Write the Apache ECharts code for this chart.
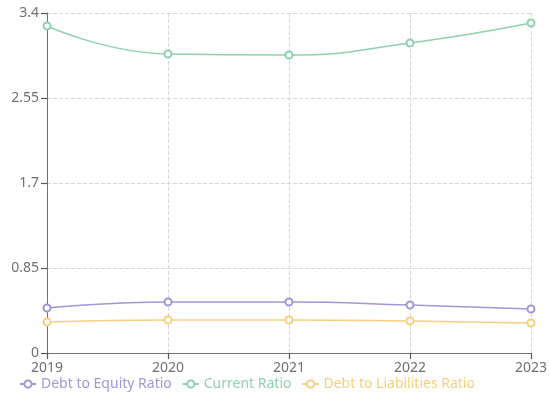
<!DOCTYPE html>
<html><head><meta charset="utf-8">
<script src="https://cdn.jsdelivr.net/npm/echarts@6/dist/echarts.min.js"></script>
<style>html,body{margin:0;padding:0;background:#fff}#c{width:550px;height:405px}</style>
</head><body><div id="c"></div>
<script>
const years = ['2019','2020','2021','2022','2023'];
const debtToEquity = [0.45, 0.51, 0.51, 0.48, 0.44];
const currentRatio = [3.27, 2.99, 2.98, 3.10, 3.30];
const debtToLiabilities = [0.31, 0.33, 0.33, 0.32, 0.30];
const seriesNames = ['Debt to Equity Ratio','Current Ratio','Debt to Liabilities Ratio'];
const colors = ['#9e98d8','#8ed1ae','#f5cf7c'];
const font = 'Noto Sans, sans-serif';
const chart = echarts.init(document.getElementById('c'));
const mk = (name, data, color) => ({
  name, type:'line', data, smooth:true, symbol:'emptyCircle', symbolSize:7,
  itemStyle:{color}, lineStyle:{color, width:1.5}
});
const tick = {show:true, inside:false, length:6, lineStyle:{color:'#55575f', width:1.2}};
chart.setOption({
  animation:false,
  color: colors,
  grid:{left:47, right:18, top:13, bottom:52, containLabel:false},
  legend:{
    left:14, bottom:9, itemGap:10, itemWidth:16, itemHeight:9,
    textStyle:{fontFamily:font, fontSize:14},
    data: seriesNames.map((n,i)=>({name:n, textStyle:{color:colors[i]}}))
  },
  xAxis:{
    type:'category', data:years, boundaryGap:false,
    axisLine:{show:true, lineStyle:{color:'#6e7079'}},
    axisTick: tick,
    axisLabel:{fontFamily:font, fontSize:14, color:'#6e7079', margin:8},
    splitLine:{show:true, lineStyle:{type:'dashed', color:'#d6d6d6'}}
  },
  yAxis:{
    type:'value', min:0, max:3.4, interval:0.85,
    axisLine:{show:true, lineStyle:{color:'#6e7079'}},
    axisTick: tick,
    axisLabel:{fontFamily:font, fontSize:14, color:'#6e7079', margin:8},
    splitLine:{show:true, lineStyle:{type:'dashed', color:'#d6d6d6'}}
  },
  series:[
    mk(seriesNames[0], debtToEquity, colors[0]),
    mk(seriesNames[1], currentRatio, colors[1]),
    mk(seriesNames[2], debtToLiabilities, colors[2])
  ]
});
</script></body></html>
